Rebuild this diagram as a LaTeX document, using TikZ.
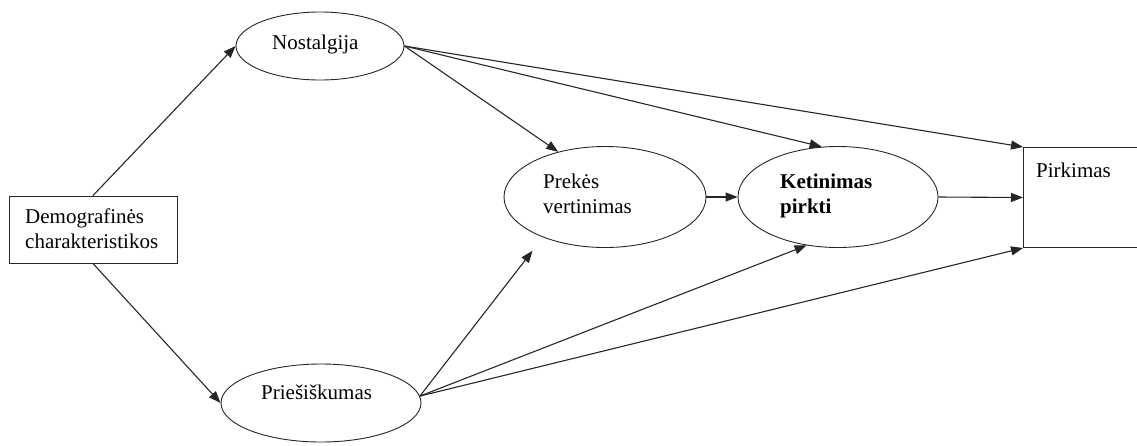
\documentclass[tikz,border=0pt]{standalone}
\usepackage{fontspec}
\setmainfont{Liberation Serif}
\usetikzlibrary{shapes.geometric,arrows.meta}

\tikzset{
  oval/.style={ellipse, draw=black!85, line width=0.9pt, inner sep=0pt},
  boxnode/.style={rectangle, draw=black!85, line width=1pt, inner sep=0pt},
  lbl/.style={anchor=base west, inner sep=0pt, font=\fontsize{21}{25}\selectfont},
  link/.style={draw=black!85, line width=1.1pt, -{Triangle[length=12pt,width=9pt]}},
}

\begin{document}
\begin{tikzpicture}[x=1pt,y=-1pt]
  \useasboundingbox (0,0) rectangle (1137,445);

  % shapes
  \node[boxnode, minimum width=168pt, minimum height=67pt] (demo) at (93,229.5) {};
  \node[oval, minimum width=168pt, minimum height=68pt] (nost) at (320,46) {};
  \node[oval, minimum width=200pt, minimum height=78pt] (prie) at (321,403) {};
  \node[oval, minimum width=202pt, minimum height=101pt] (prek) at (605,197) {};
  \node[oval, minimum width=200pt, minimum height=101pt] (ket) at (838,197) {};
  \node[boxnode, minimum width=130pt, minimum height=100pt, anchor=north west] (pirk) at (1023,147) {};

  % texts
  \node[lbl] (demoT) at (25,223) {\vtop{\hbox{Demografinės}\hbox{charakteristikos}}};
  \node[lbl] (nostT) at (272,49) {Nostalgija};
  \node[lbl] (prieT) at (261,399) {Priešiškumas};
  \node[lbl] (prekT) at (543,188) {\vtop{\hbox{Prekės}\hbox{vertinimas}}};
  \node[lbl, font=\fontsize{21}{25}\selectfont\bfseries] (ketT) at (780,188) {\vtop{\hbox{Ketinimas}\hbox{pirkti}}};
  \node[lbl] (pirkT) at (1036,177) {Pirkimas};

  % connectors
  \draw[link] (demo.north) -- (nost.west);
  \draw[link] (demo.south) -- (prie.west);

  \draw[link] (nost.east) -- (prek.136);
  \draw[link] (nost.east) -- (ket.108);
  \draw[link] (nost.east) -- (pirk.north west);

  \draw[link, shorten >=17pt] (prie.4) -- (prek.213);
  \draw[link] (prie.4) -- (ket.237);
  \draw[link] (prie.4) -- (pirk.south west);

  \draw[link] (prek.east) -- (ket.west);
  \draw[link] (ket.east) -- (pirk.west);
\end{tikzpicture}
\end{document}
